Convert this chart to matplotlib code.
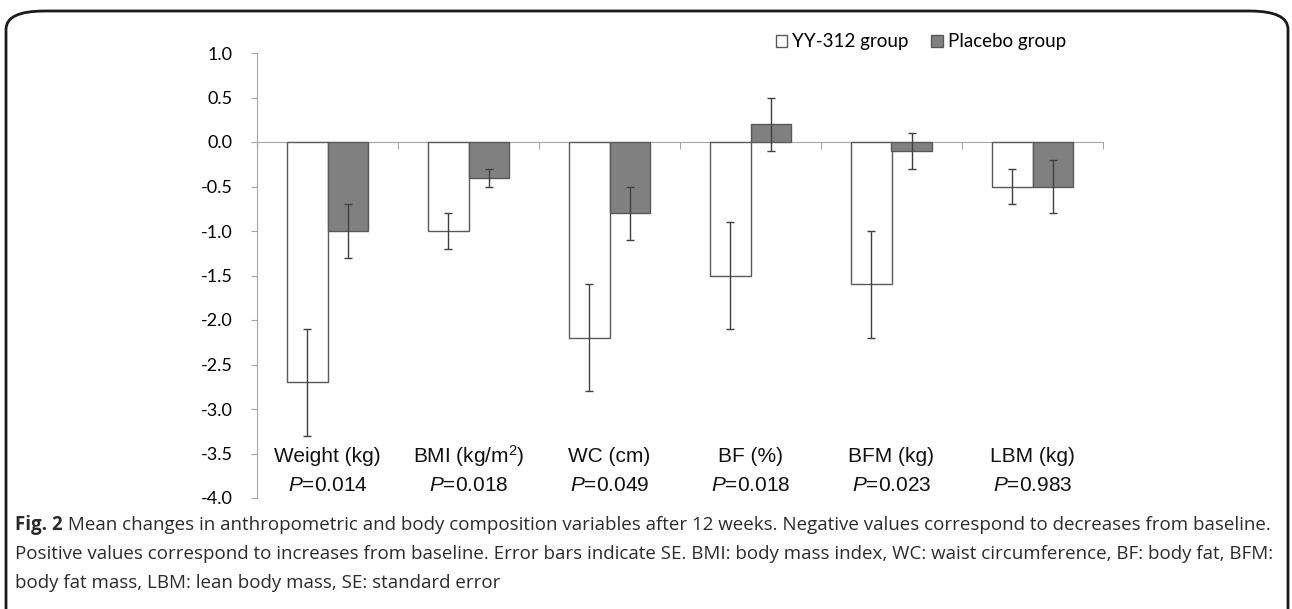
import matplotlib
matplotlib.use("Agg")
import matplotlib.pyplot as plt
from matplotlib.patches import FancyBboxPatch, Patch
import numpy as np

# Daten
categories = ["Weight (kg)", "BMI (kg/m$^2$)", "WC (cm)", "BF (%)", "BFM (kg)", "LBM (kg)"]
p_values = ["0.014", "0.018", "0.049", "0.018", "0.023", "0.983"]
yy_mean = [-2.7, -1.0, -2.2, -1.5, -1.6, -0.5]
yy_se = [0.6, 0.2, 0.6, 0.6, 0.6, 0.2]
placebo_mean = [-1.0, -0.4, -0.8, 0.2, -0.1, -0.5]
placebo_se = [0.3, 0.1, 0.3, 0.3, 0.2, 0.3]
yticks = [1.0, 0.5, 0.0, -0.5, -1.0, -1.5, -2.0, -2.5, -3.0, -3.5, -4.0]

caption_bold = "Fig. 2"
caption_lines = [
    " Mean changes in anthropometric and body composition variables after 12 weeks. Negative values correspond to decreases from baseline.",
    "Positive values correspond to increases from baseline. Error bars indicate SE. BMI: body mass index, WC: waist circumference, BF: body fat, BFM:",
    "body fat mass, LBM: lean body mass, SE: standard error",
]

plt.rcParams['mathtext.fontset'] = 'custom'
plt.rcParams['mathtext.rm'] = 'Liberation Sans'
plt.rcParams['mathtext.it'] = 'Liberation Sans:italic'

W, H = 1292, 609
fig = plt.figure(figsize=(W / 100, H / 100), dpi=100)

# abgerundeter Rahmen
box = FancyBboxPatch((6 / W, -0.2), (W - 10) / W, 1.2 - 11 / H,
                     boxstyle="round,pad=0,rounding_size=0.03",
                     transform=fig.transFigure, fill=False,
                     edgecolor="#1a1a1a", linewidth=2, clip_on=False)
fig.patches.append(box)

ax = fig.add_axes([257 / W, 1 - 498 / H, (1103 - 257) / W, (498 - 53) / H])

x = np.arange(len(categories))
w = 0.29
axis_col = "#a6a6a6"
edge = "#595959"

ax.bar(x - w / 2, yy_mean, w, color="white", edgecolor=edge, linewidth=1, zorder=2)
ax.bar(x + w / 2, placebo_mean, w, color="#808080", edgecolor=edge, linewidth=1, zorder=2)
ax.errorbar(x - w / 2, yy_mean, yerr=yy_se, fmt="none", ecolor="#404040",
            elinewidth=1, capsize=3, capthick=1, zorder=3)
ax.errorbar(x + w / 2, placebo_mean, yerr=placebo_se, fmt="none", ecolor="#404040",
            elinewidth=1, capsize=3, capthick=1, zorder=3)

ax.set_xlim(-0.5, len(categories) - 0.5)
ax.set_ylim(-4.0, 1.0)
ax.set_yticks(yticks)
ax.set_yticklabels([f"{v:.1f}" for v in yticks], fontfamily="Lato", fontsize=13)
ax.tick_params(axis="y", direction="out", length=4, color=axis_col, pad=13.5)

ax.spines["top"].set_visible(False)
ax.spines["right"].set_visible(False)
ax.spines["left"].set_color(axis_col)
ax.spines["bottom"].set_color(axis_col)
ax.spines["bottom"].set_position(("data", 0))
ax.spines["bottom"].set_zorder(1)
ax.set_xticks(np.arange(-0.5, len(categories), 1.0))
ax.set_xticklabels([])
ax.tick_params(axis="x", direction="out", length=5, color=axis_col)

for i, (cat, p) in enumerate(zip(categories, p_values)):
    ax.text(i, -3.53, cat, ha="center", va="center", fontsize=15,
            family="Liberation Sans", color="#111111")
    ax.text(i, -3.86, "$P$=" + p, ha="center", va="center", fontsize=15,
            family="Liberation Sans", color="#111111")

handles = [Patch(facecolor="white", edgecolor=edge, label="YY-312 group"),
           Patch(facecolor="#808080", edgecolor=edge, label="Placebo group")]
fig.legend(handles=handles, loc="center", bbox_to_anchor=(921 / W, 1 - 42 / H),
           ncol=2, frameon=False, handlelength=0.6, handleheight=0.6,
           handletextpad=0.3, columnspacing=1.2,
           prop={"family": "Lato", "size": 13.5})

# Bildunterschrift
cap_font = dict(family="Open Sans", fontsize=13.5, color="#2b2b2b")
line_y = [1 - 525 / H, 1 - 554 / H, 1 - 583 / H]
fig.canvas.draw()
renderer = fig.canvas.get_renderer()
t = fig.text(15 / W, line_y[0], caption_bold, fontweight="bold", va="center", **cap_font)
bb = t.get_window_extent(renderer)
fig.text(bb.x1 / W, line_y[0], caption_lines[0], va="center", **cap_font)
fig.text(15 / W, line_y[1], caption_lines[1], va="center", **cap_font)
fig.text(15 / W, line_y[2], caption_lines[2], va="center", **cap_font)

fig.savefig("out.png", dpi=100)
